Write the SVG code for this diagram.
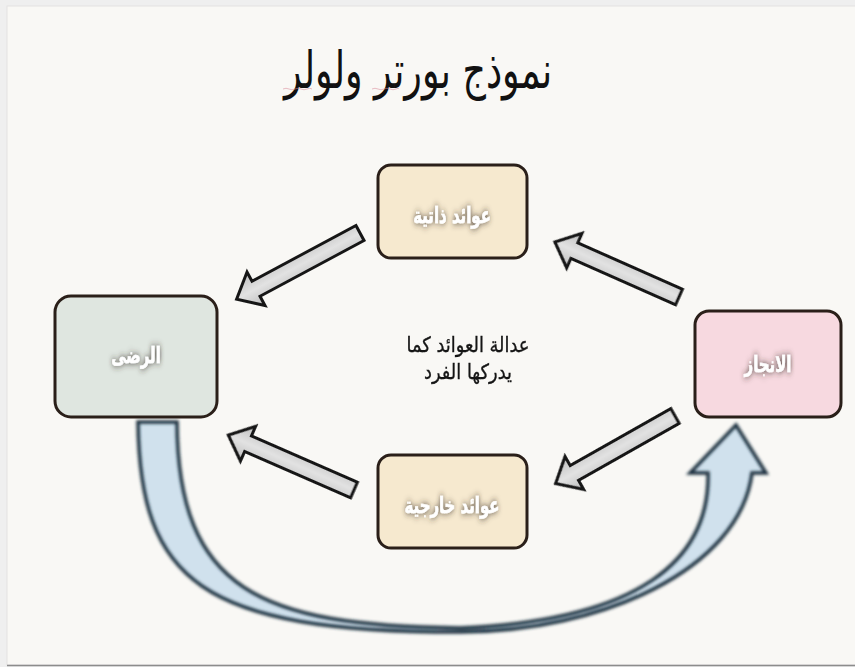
<svg xmlns="http://www.w3.org/2000/svg" width="855" height="667" viewBox="0 0 855 667">
  <defs>
    <style>
      .box { stroke: #2a1f19; stroke-width: 3; }
      .label { font-family: "DejaVu Sans", sans-serif; font-size: 22px; font-weight: bold; fill: #ffffff; stroke: #ffffff; stroke-width: 0.5; text-anchor: middle; filter: url(#glow); }
      .title { font-family: "DejaVu Sans", sans-serif; font-size: 52px; fill: #111111; text-anchor: middle; }
      .note { font-family: "DejaVu Sans", sans-serif; font-size: 21px; fill: #151515; stroke: #151515; stroke-width: 0.35; text-anchor: middle; }
      .block { fill: url(#shaft); stroke: #161616; stroke-width: 3; stroke-linejoin: miter; }
    </style>
    <filter id="glow" x="-40%" y="-70%" width="180%" height="240%">
      <feGaussianBlur in="SourceAlpha" stdDeviation="3.5" result="b"/>
      <feFlood flood-color="#3a3028" flood-opacity="0.9"/>
      <feComposite in2="b" operator="in" result="s"/>
      <feMerge><feMergeNode in="s"/><feMergeNode in="SourceGraphic"/></feMerge>
    </filter>
    <filter id="soft" x="-5%" y="-5%" width="110%" height="110%">
      <feGaussianBlur stdDeviation="1.4"/>
    </filter>
    <filter id="edge" x="-5%" y="-5%" width="110%" height="110%">
      <feGaussianBlur stdDeviation="0.6"/>
    </filter>
    <linearGradient id="shaft" x1="0" y1="0" x2="0" y2="1">
      <stop offset="0" stop-color="#bdbdbd"/>
      <stop offset="0.5" stop-color="#e2e2e2"/>
      <stop offset="1" stop-color="#bdbdbd"/>
    </linearGradient>
    <!-- block arrow pointing along +x, length 140 -->
    <polygon id="blockArrow" points="0,-8.5 118,-8.5 118,-19 140,0 118,19 118,8.5 0,8.5"/>
  </defs>

  <!-- page -->
  <rect x="0" y="0" width="855" height="667" fill="#efefef"/>
  <rect x="7" y="6" width="849" height="659" fill="#f9f8f5" stroke="#e4e2e2" stroke-width="1"/>
  <line x1="7" y1="665.5" x2="855" y2="665.5" stroke="#8c8c8c" stroke-width="1.5"/>

  <!-- title -->
  <text class="title" transform="translate(418,88) scale(0.7,1)" x="0" y="0" direction="rtl">نموذج بورتر ولولر</text>
  <path d="M283,89 q3,-1.5 6,0 t6,0 t6,0 t6,0 t5,0 M372,89 q3,-1.5 6,0 t6,0 t6,0 t6,0 t3,0" fill="none" stroke="#d98695" stroke-width="1" opacity="0.55"/>

  <!-- connectors -->
  <g id="connectors">
    <g filter="url(#edge)">
      <use href="#blockArrow" class="block" transform="translate(360,233) rotate(151.8)"/>
      <use href="#blockArrow" class="block" transform="translate(679,297) rotate(203.9) scale(0.97,1)"/>
      <use href="#blockArrow" class="block" transform="translate(354,490) rotate(203.6) scale(0.98,1)"/>
      <use href="#blockArrow" class="block" transform="translate(675,416) rotate(150.5) scale(0.98,1)"/>
    </g>
    <!-- feedback loop from satisfaction back to performance -->
    <g id="loop">
      <path d="M138,422 C140,580 200,632 460,632 C600,632 740,570 752,473 L766,473 L736,425 L690,473 L708,473 C710,560 640,620 460,628 C260,626 178,590 177,422 Z" fill="#d0e1ed"/>
      <path d="M138,422 C140,580 200,632 460,632 C600,632 740,570 752,473 L766,473 L736,425 L690,473 L708,473 C710,560 640,620 460,628 C260,626 178,590 177,422 Z" fill="none" stroke="#1f3040" stroke-width="3.5" filter="url(#soft)"/>
    </g>
  </g>

  <!-- nodes -->
  <g id="intrinsic">
    <rect class="box" x="378" y="165" width="149" height="93" rx="13" fill="#f6e9cf"/>
    <text class="label" transform="translate(452,223) scale(0.68,1)" x="0" y="0" direction="rtl">عوائد ذاتية</text>
  </g>
  <g id="satisfaction">
    <rect class="box" x="55" y="296" width="162" height="121" rx="16" fill="#dfe6e0"/>
    <text class="label" transform="translate(136,363) scale(0.68,1)" x="0" y="0" direction="rtl">الرضى</text>
  </g>
  <g id="performance">
    <rect class="box" x="695" y="311" width="146" height="106" rx="14" fill="#f7d9e0"/>
    <text class="label" transform="translate(768,372) scale(0.68,1)" x="0" y="0" direction="rtl">الانجاز</text>
  </g>
  <g id="extrinsic">
    <rect class="box" x="378" y="455" width="149" height="93" rx="13" fill="#f6e9cf"/>
    <text class="label" transform="translate(452,513) scale(0.68,1)" x="0" y="0" direction="rtl">عوائد خارجية</text>
  </g>
  <g id="equity">
    <text class="note" transform="translate(468,352) scale(0.85,1)" x="0" y="0" direction="rtl">عدالة العوائد كما</text>
    <text class="note" transform="translate(468,379) scale(0.85,1)" x="0" y="0" direction="rtl">يدركها الفرد</text>
  </g>
</svg>
